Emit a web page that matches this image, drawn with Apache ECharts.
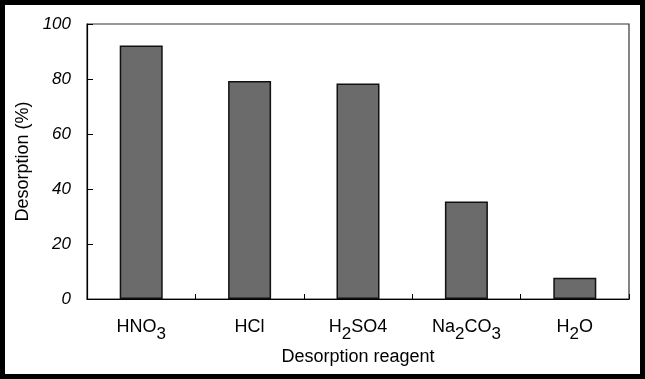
<!DOCTYPE html>
<html>
<head>
<meta charset="utf-8">
<script src="https://cdn.jsdelivr.net/npm/echarts@6/dist/echarts.min.js"></script>
<style>
html,body{margin:0;padding:0;background:#fff;}
#chart{width:645px;height:379px;}
</style>
</head>
<body>
<div id="chart"></div>
<script>
// Data
const categories = ['HNO3', 'HCl', 'H2SO4', 'Na2CO3', 'H2O'];
const categoryLabels = ['{n|HNO}{s|3}', '{n|HCl}', '{n|H}{s|2}{n|SO4}', '{n|Na}{s|2}{n|CO}{s|3}', '{n|H}{s|2}{n|O}'];
const desorption = [92.2, 79.3, 78.4, 35.5, 7.7];
const yTicks = [0, 20, 40, 60, 80, 100];

const chart = echarts.init(document.getElementById('chart'), null, {renderer: 'canvas'});
const FONT = 'Liberation Sans, Arial, sans-serif';

chart.setOption({
  animation: false,
  backgroundColor: '#fff',
  graphic: [{
    type: 'rect',
    z: 100,
    silent: true,
    shape: {x: 0, y: 0, width: 645, height: 379},
    style: {fill: 'none', stroke: '#000', lineWidth: 10}
  }],
  grid: {
    left: 87, top: 24, right: 16, bottom: 80,
    show: true, borderColor: '#333', borderWidth: 1.2, backgroundColor: 'transparent'
  },
  xAxis: {
    type: 'category',
    data: categories,
    boundaryGap: true,
    name: 'Desorption reagent',
    nameLocation: 'middle',
    nameGap: 48,
    nameTextStyle: {fontFamily: FONT, fontSize: 18, color: '#000'},
    axisLine: {lineStyle: {color: '#000', width: 1.2}},
    axisTick: {show: true, inside: true, length: 5, lineStyle: {color: '#000'}},
    axisLabel: {
      interval: 0,
      hideOverlap: false,
      margin: 19,
      color: '#000',
      formatter: function (v) { return categoryLabels[categories.indexOf(v)]; },
      rich: {
        n: {fontFamily: FONT, fontSize: 18, color: '#000', verticalAlign: 'top', lineHeight: 20},
        s: {fontFamily: FONT, fontSize: 17, color: '#000', verticalAlign: 'top', lineHeight: 20, padding: [8, 0, 0, 0]}
      }
    }
  },
  yAxis: {
    type: 'value',
    min: yTicks[0], max: yTicks[yTicks.length - 1], interval: 20,
    name: 'Desorption (%)',
    nameLocation: 'middle',
    nameGap: 55,
    nameRotate: 90,
    nameTextStyle: {fontFamily: FONT, fontSize: 18, color: '#000'},
    axisLine: {show: true, lineStyle: {color: '#000', width: 1.2}},
    axisTick: {show: true, inside: true, length: 6, lineStyle: {color: '#000'}},
    splitLine: {show: false},
    axisLabel: {margin: 16, fontFamily: FONT, fontSize: 17, fontStyle: 'italic', color: '#000'}
  },
  series: [{
    type: 'bar',
    data: desorption,
    barWidth: 43,
    itemStyle: {color: '#6b6b6b', borderColor: '#111', borderWidth: 1.5}
  }]
});
</script>
</body>
</html>
